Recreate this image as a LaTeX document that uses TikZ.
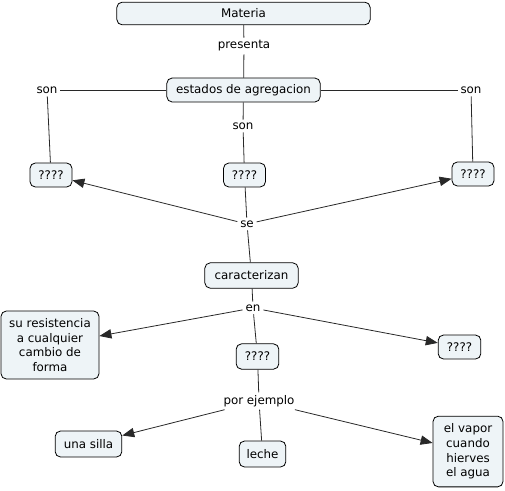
\documentclass[tikz,border=0pt]{standalone}
\usepackage{fontspec}
\setmainfont{DejaVu Sans}
\usetikzlibrary{arrows.meta}
\definecolor{boxfill}{RGB}{238,244,247}
\definecolor{linecol}{RGB}{40,40,40}
\begin{document}
\begin{tikzpicture}[x=0.75pt,y=-0.75pt,
  concept/.style={draw=black, fill=boxfill, rounded corners=4pt, line width=0.6pt,
    font=\fontsize{8.9}{10.9}\selectfont, align=center, inner sep=0pt},
  linkphrase/.style={font=\fontsize{8.9}{10.9}\selectfont, inner sep=2pt},
  conn/.style={draw=linecol, line width=0.6pt},
  arr/.style={conn, -{Triangle[length=9pt,width=7pt]}}]
\useasboundingbox (0,0) rectangle (505,490);
% concepts
\node[concept, minimum width=190pt, minimum height=17pt] (materia) at (243.5,13.5) {Materia};
\node[concept, minimum width=115pt, minimum height=18pt] (estados) at (243.5,90) {estados de agregacion};
\node[concept, minimum width=31.5pt, minimum height=18pt] (q1) at (51,175) {????};
\node[concept, minimum width=31.5pt, minimum height=18pt] (q2) at (244.5,175) {????};
\node[concept, minimum width=31.5pt, minimum height=18pt] (q3) at (473,174) {????};
\node[concept, minimum width=70pt, minimum height=19pt] (carac) at (251.5,275.5) {caracterizan};
\node[concept, minimum width=73.5pt, minimum height=51pt] (resist) at (50,345) {su resistencia\\a cualquier\\cambio de\\forma};
\node[concept, minimum width=32pt, minimum height=19pt] (q4) at (257.5,356.5) {????};
\node[concept, minimum width=32pt, minimum height=18pt] (q5) at (459.5,347) {????};
\node[concept, minimum width=50pt, minimum height=19.5pt] (silla) at (88.5,444) {una silla};
\node[concept, minimum width=35pt, minimum height=19.5pt] (leche) at (262.5,454) {leche};
\node[concept, minimum width=52.5pt, minimum height=53pt] (vapor) at (468,451.5) {el vapor\\cuando\\hierves\\el agua};
% linking phrases
\node[linkphrase] (presenta) at (244,46) {presenta};
\node[linkphrase] (sonL) at (47,90) {son};
\node[linkphrase] (sonR) at (471,90) {son};
\node[linkphrase] (sonM) at (243,126) {son};
\node[linkphrase] (se) at (247,224) {se};
\node[linkphrase] (en) at (253,308) {en};
\node[linkphrase] (ejemplo) at (259,401) {por ejemplo};
% connectors
\draw[conn] (materia) -- (presenta);
\draw[conn] (presenta) -- (estados);
\draw[conn] (estados) -- (sonL);
\draw[conn] (sonL) -- (q1);
\draw[conn] (estados) -- (sonR);
\draw[conn] (sonR) -- (q3);
\draw[conn] (estados) -- (sonM);
\draw[conn] (sonM) -- (q2);
\draw[conn] (q2) -- (se);
\draw[arr] (se) -- (q1);
\draw[arr] (se) -- (q3);
\draw[conn] (se) -- (carac);
\draw[conn] (carac) -- (en);
\draw[arr] (en) -- (resist);
\draw[arr] (en) -- (q5);
\draw[conn] (en) -- (q4);
\draw[conn] (q4) -- (ejemplo);
\draw[arr] (ejemplo) -- (silla);
\draw[conn] (ejemplo) -- (leche);
\draw[arr] (ejemplo) -- (vapor);
\end{tikzpicture}
\end{document}
